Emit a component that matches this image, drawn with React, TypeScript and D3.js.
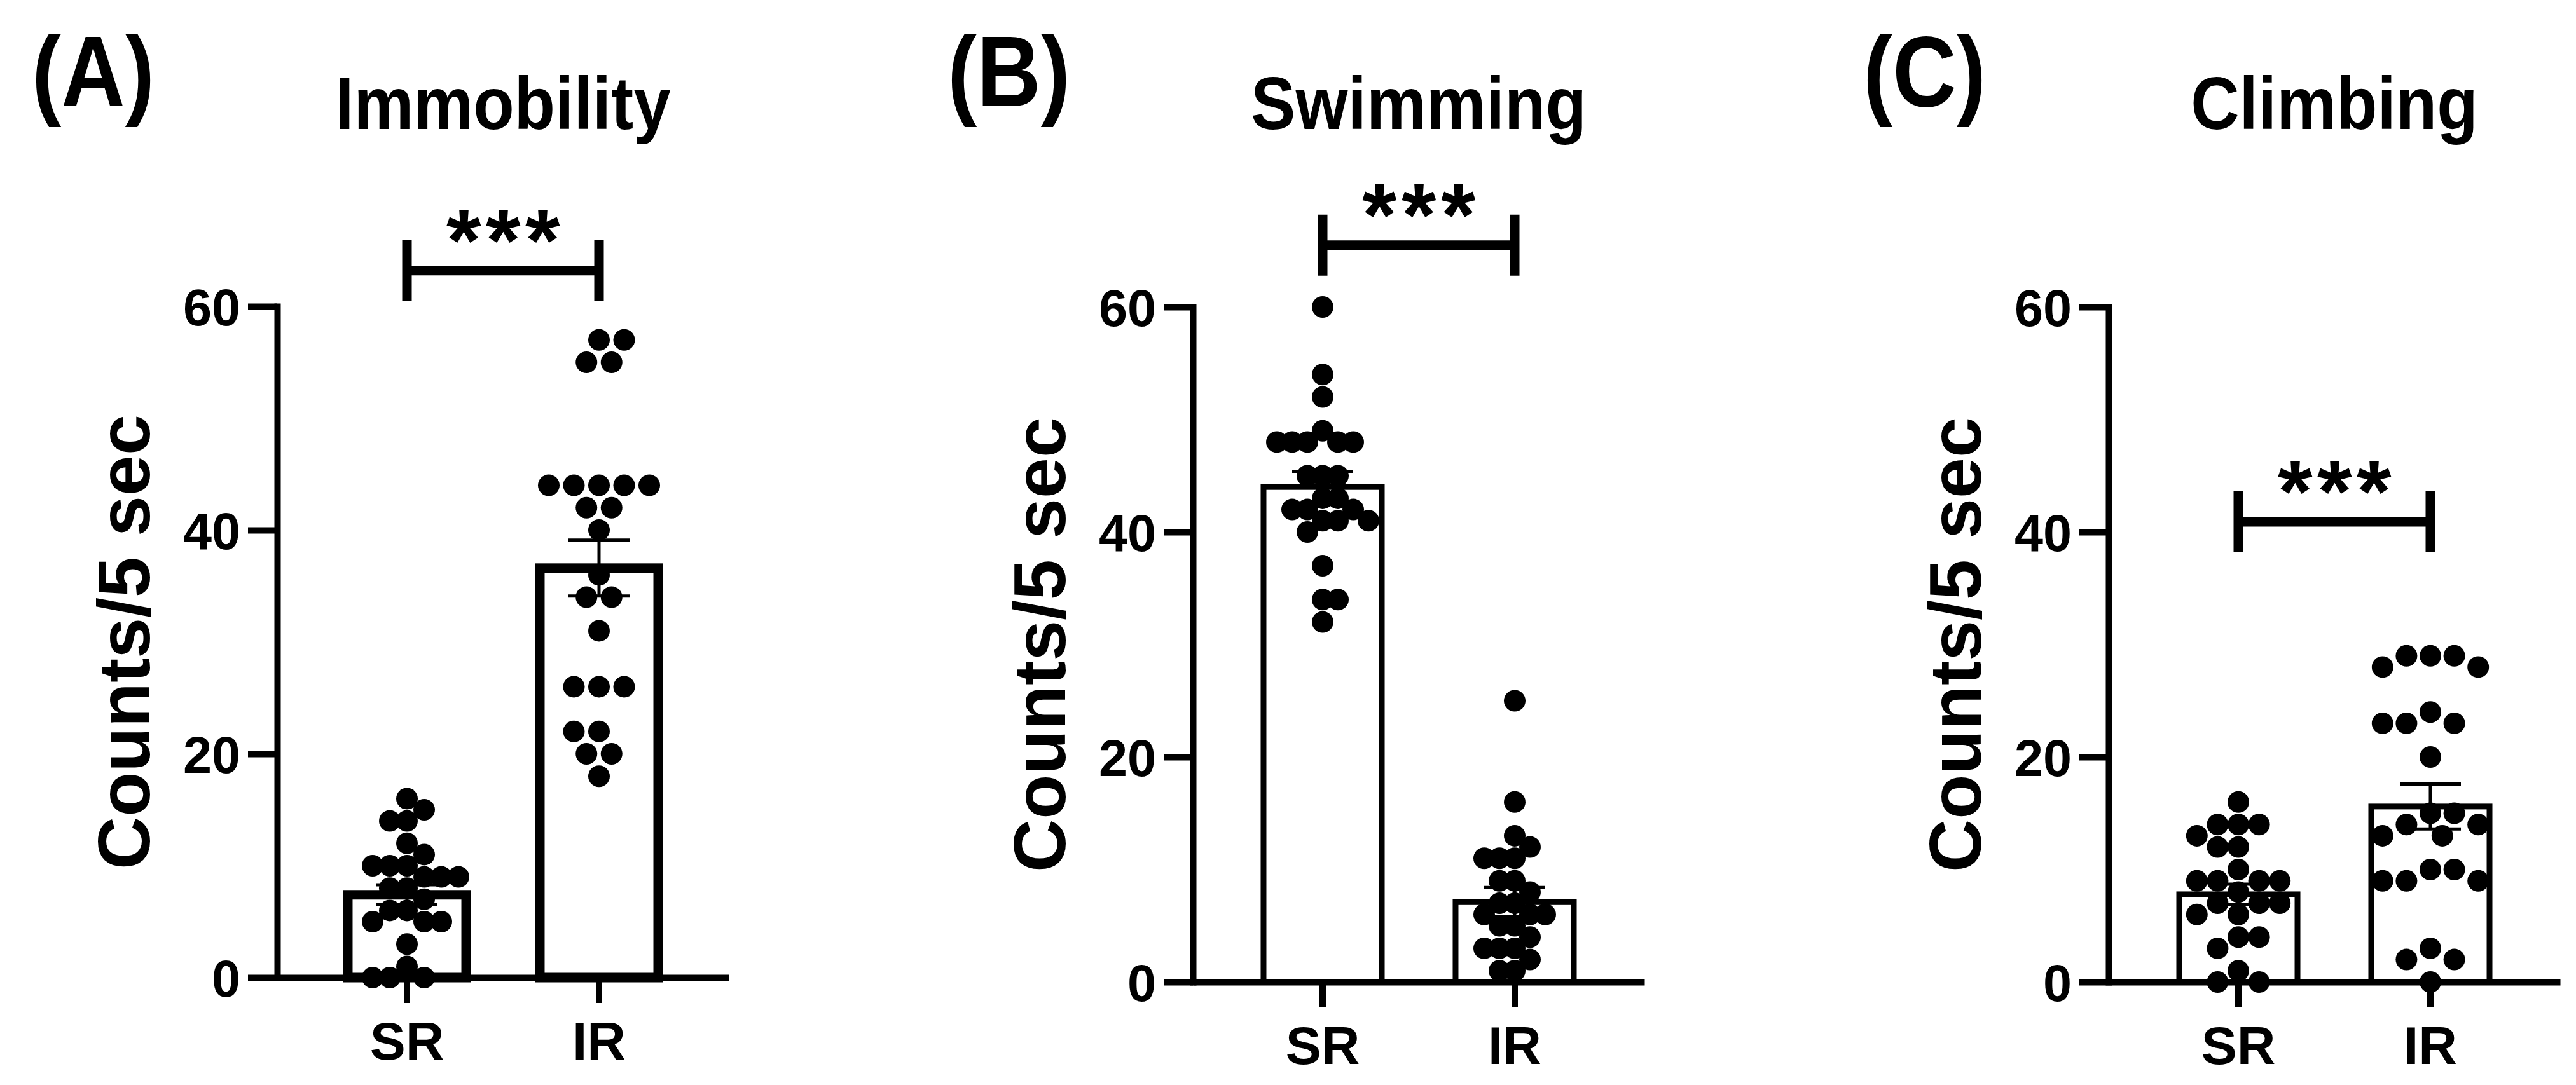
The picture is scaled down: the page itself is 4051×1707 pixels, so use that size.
import React, { useEffect, useRef } from 'react';
import * as d3 from 'd3';

// Panel text
const panelLabels = ['(A)', '(B)', '(C)'];
const panelTitles = ['Immobility', 'Swimming', 'Climbing'];
const groups = ['SR', 'IR'];
const yTicks = [0, 20, 40, 60];
const yLabel = 'Counts/5 sec';
const sigLabel = '***';

// Individual animals (counts / 5 sec)
const immobilitySR = [16, 15, 14, 14, 12, 11, 10, 10, 10, 9, 9, 9, 8, 8, 7, 6, 6, 5, 5, 5, 3, 1, 0, 0, 0];
const immobilityIR = [57, 57, 55, 55, 44, 44, 44, 44, 44, 42, 42, 40, 36, 34, 34, 31, 26, 26, 26, 22, 22, 20, 20, 18];
const swimmingSR = [60, 54, 52, 49, 48, 48, 48, 48, 48, 45, 45, 45, 43, 43, 42, 42, 42, 41, 41, 41, 40, 37, 34, 34, 32];
const swimmingIR = [25, 16, 13, 12, 11, 11, 11, 9, 9, 8, 7, 7, 6, 6, 6, 5, 5, 4, 3, 3, 3, 2, 1, 1];
const climbingSR = [16, 14, 14, 14, 13, 12, 12, 10, 9, 9, 9, 9, 8, 7, 7, 7, 6, 6, 4, 4, 3, 1, 0, 0];
const climbingIR = [29, 29, 29, 28, 28, 24, 23, 23, 23, 20, 15, 15, 14, 14, 13, 13, 10, 10, 9, 9, 9, 3, 2, 2, 0];

// Bar heights (mean) and error bars (SEM) per panel, [SR, IR]
const immobilityMean = [7.4, 36.6];
const immobilitySem = [0.9, 2.5];
const swimmingMean = [44.0, 7.1];
const swimmingSem = [1.4, 1.3];
const climbingMean = [7.8, 15.6];
const climbingSem = [0.9, 2.0];

// Height of the significance bracket, in axis units
const sigLevels = [63.2, 65.5, 40.9];

const panelDots = [
  [immobilitySR, immobilityIR],
  [swimmingSR, swimmingIR],
  [climbingSR, climbingIR],
];
const panelMeans = [immobilityMean, swimmingMean, climbingMean];
const panelSems = [immobilitySem, swimmingSem, climbingSem];

// Layout
const W = 4051;
const H = 1707;
const FONT = '"Liberation Sans", Arial, Helvetica, sans-serif';
const PANEL_X = [436, 1876, 3316];
const PANEL_TOP = [482, 483, 483];
const PANEL_BOTTOM = [1538, 1545, 1545];
const AXIS_LEN = 710;
const DOT_SPREAD = [[27, 39.5], [24, 24], [32.6, 37.6]];
const BAR_STROKE = [15, 9, 9];

// simple beeswarm: place dots from top to bottom at the nearest free slot
function swarm(values: number[], y: (v: number) => number, step: number) {
  const order = values.map((v, i) => i).sort((a, b) => values[b] - values[a]);
  const placed: { x: number; y: number }[] = [];
  const offsets = new Array(values.length).fill(0);
  order.forEach((idx, n) => {
    const py = y(values[idx]);
    for (let k = 0; k < 40; k++) {
      const cands = k === 0 ? [0] : n % 2 ? [k * step / 2, -k * step / 2] : [-k * step / 2, k * step / 2];
      const ok = cands.find(cx => placed.every(p => (p.x - cx) ** 2 + (p.y - py) ** 2 >= step * step * 0.98));
      if (ok !== undefined) {
        offsets[idx] = ok;
        placed.push({ x: ok, y: py });
        break;
      }
    }
  });
  return offsets;
}

const App: React.FC = () => {
  const svgRef = useRef<SVGSVGElement>(null);

  useEffect(() => {
    const svg = d3.select(svgRef.current);
    svg.selectAll('*').remove();

    panelTitles.forEach((title, i) => {
      const x0 = PANEL_X[i];
      const y = d3.scaleLinear().domain([0, 60]).range([PANEL_BOTTOM[i], PANEL_TOP[i]]);
      const x = d3.scaleBand().domain(groups).range([x0, x0 + AXIS_LEN])
        .paddingInner(0.384).paddingOuter(0.3675);
      const cx = (g: string) => (x(g) || 0) + x.bandwidth() / 2;
      const g = svg.append('g');

      // y axis
      const yAxis = g.append('g')
        .attr('transform', `translate(${x0},0)`)
        .call(d3.axisLeft(y).tickValues(yTicks).tickSize(46).tickSizeOuter(0).tickPadding(12).tickFormat(d3.format('d')));
      yAxis.select('.domain').attr('stroke', '#000').attr('stroke-width', 10).attr('stroke-linecap', 'square');
      yAxis.selectAll('.tick line').attr('stroke', '#000').attr('stroke-width', 10);
      yAxis.selectAll('.tick text')
        .attr('fill', '#000').attr('font-family', FONT).attr('font-weight', 'bold')
        .attr('font-size', 81).attr('dy', '0.36em');

      // x axis
      const xAxis = g.append('g')
        .attr('transform', `translate(0,${y(0)})`)
        .call(d3.axisBottom(x).tickSize(40).tickSizeOuter(0));
      xAxis.select('.domain').attr('stroke', '#000').attr('stroke-width', 10);
      xAxis.selectAll('.tick line').attr('stroke', '#000').attr('stroke-width', 10);
      xAxis.selectAll('.tick text')
        .attr('fill', '#000').attr('font-family', FONT).attr('font-weight', 'bold')
        .attr('font-size', 84).attr('y', 129).attr('dy', 0);

      // bars
      g.selectAll('rect.bar')
        .data(groups)
        .join('rect')
        .attr('class', 'bar')
        .attr('x', d => x(d) || 0)
        .attr('y', (d, j) => y(panelMeans[i][j]))
        .attr('width', x.bandwidth())
        .attr('height', (d, j) => y(0) - y(panelMeans[i][j]))
        .attr('fill', '#fff')
        .attr('stroke', '#000')
        .attr('stroke-width', BAR_STROKE[i]);

      // error bars (mean +/- SEM)
      groups.forEach((grp, j) => {
        const m = panelMeans[i][j];
        const s = panelSems[i][j];
        const c = cx(grp);
        const eb = g.append('g').attr('stroke', '#000').attr('stroke-width', 5);
        eb.append('line').attr('x1', c).attr('x2', c).attr('y1', y(m - s)).attr('y2', y(m + s));
        [m - s, m + s].forEach(v => {
          eb.append('line').attr('x1', c - 48).attr('x2', c + 48).attr('y1', y(v)).attr('y2', y(v));
        });
      });

      // individual dots
      groups.forEach((grp, j) => {
        const vals = panelDots[i][j];
        const offs = swarm(vals, y, DOT_SPREAD[i][j]);
        g.append('g')
          .selectAll('circle')
          .data(vals)
          .join('circle')
          .attr('cx', (d, k) => cx(grp) + offs[k])
          .attr('cy', d => y(d))
          .attr('r', 17)
          .attr('fill', '#000');
      });

      // significance bracket
      const sy = y(sigLevels[i]);
      const left = cx(groups[0]);
      const right = cx(groups[1]);
      const br = g.append('g').attr('stroke', '#000').attr('stroke-width', 15);
      br.append('line').attr('x1', left).attr('x2', right).attr('y1', sy).attr('y2', sy);
      [left, right].forEach(bx => {
        br.append('line').attr('x1', bx).attr('x2', bx).attr('y1', sy - 48).attr('y2', sy + 48);
      });
      g.append('text')
        .attr('x', (left + right) / 2 + 4)
        .attr('y', sy)
        .attr('text-anchor', 'middle')
        .attr('font-family', FONT)
        .attr('font-weight', 'bold')
        .attr('font-size', 140)
        .attr('letter-spacing', 7.5)
        .text(sigLabel);

      // y-axis title
      g.append('text')
        .attr('transform', `translate(${x0 - 201},${(y(0) + y(60)) / 2}) rotate(-90)`)
        .attr('text-anchor', 'middle')
        .attr('font-family', FONT)
        .attr('font-weight', 'bold')
        .attr('font-size', 115)
        .text(yLabel);

      // panel title
      g.append('text')
        .attr('transform', `translate(${(left + right) / 2},203) scale(0.91,1)`)
        .attr('text-anchor', 'middle')
        .attr('font-family', FONT)
        .attr('font-weight', 'bold')
        .attr('font-size', 116)
        .text(title);

      // panel letter
      g.append('text')
        .attr('transform', `translate(${x0 - 386},167) scale(0.88,1)`)
        .attr('font-family', FONT)
        .attr('font-weight', 'bold')
        .attr('font-size', 158)
        .text(panelLabels[i]);
    });
  }, []);

  return (
    <svg
      ref={svgRef}
      width={W}
      height={H}
      style={{ position: 'absolute', left: 0, top: 0, background: '#fff' }}
    />
  );
};

export default App;
